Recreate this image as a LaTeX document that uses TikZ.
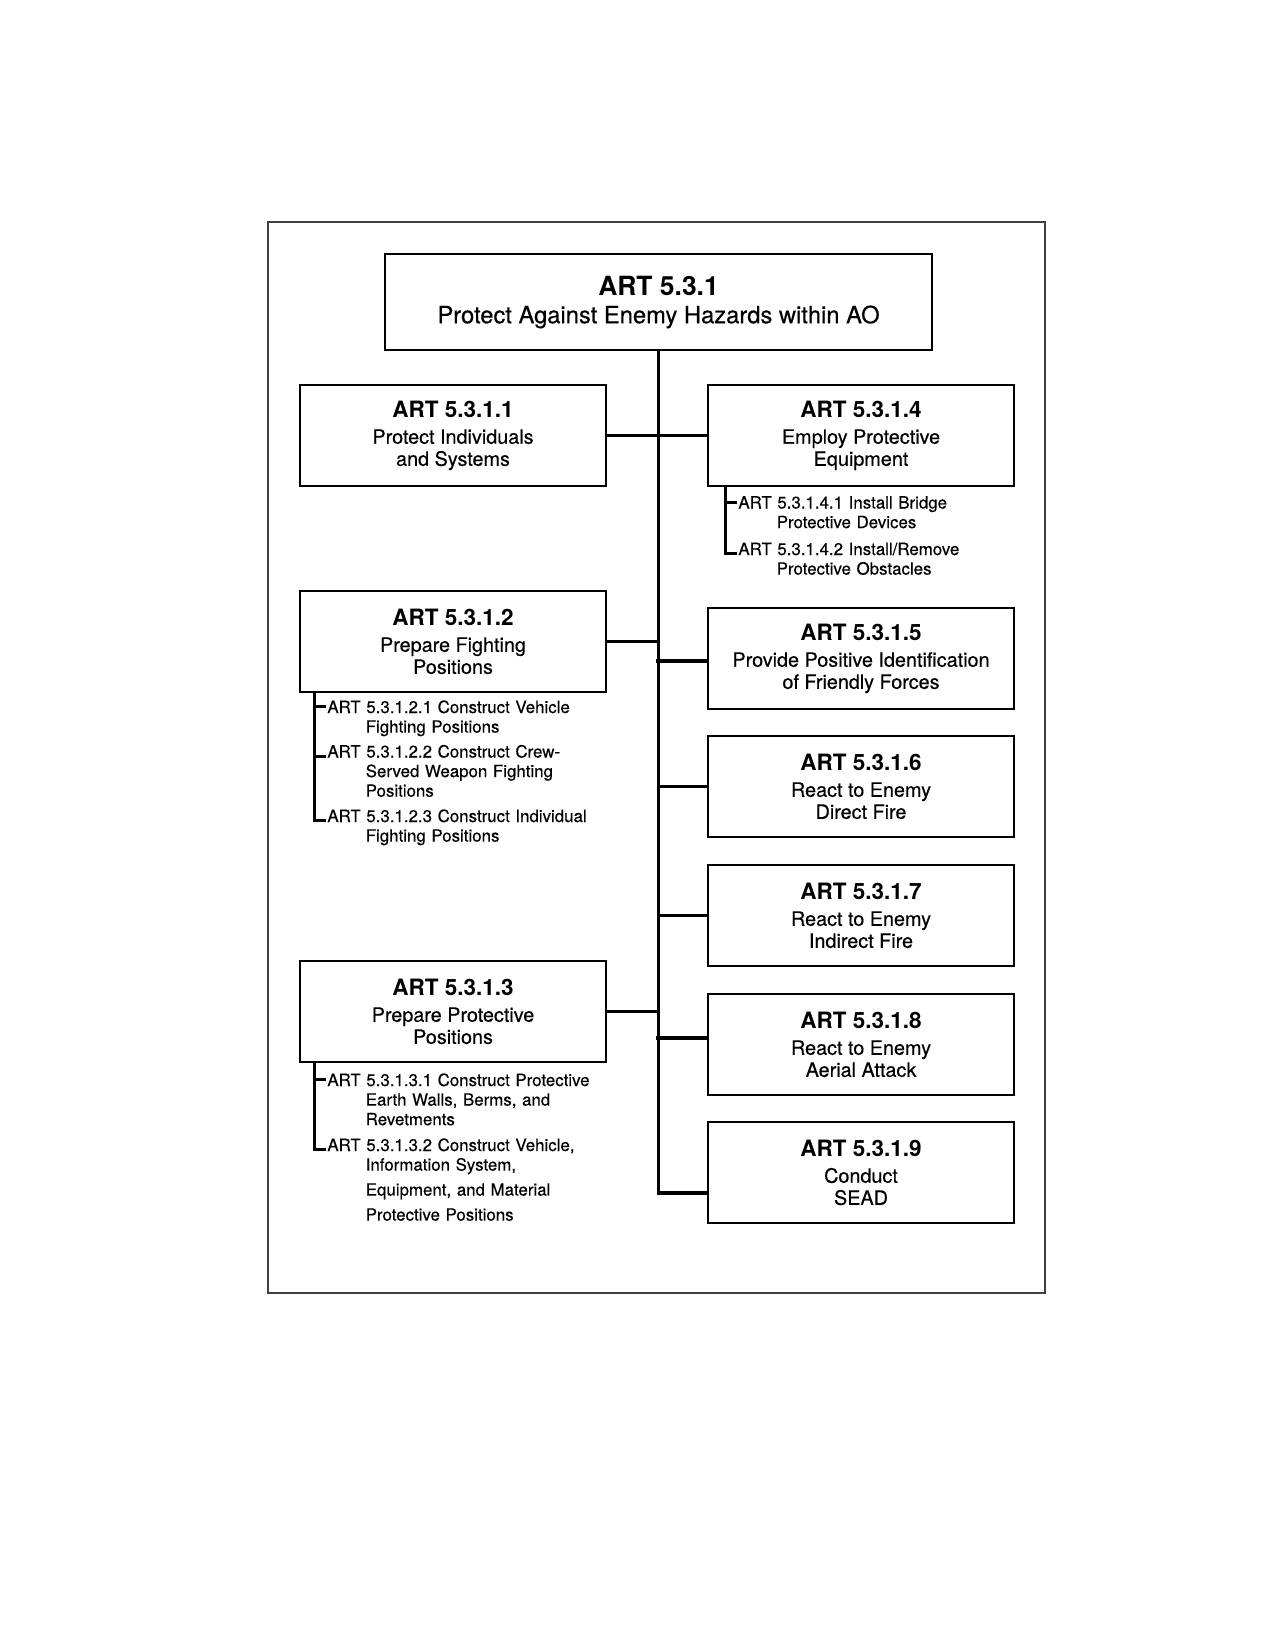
\documentclass[tikz,border=0pt]{standalone}
\usepackage{fontspec}
\setmainfont{TeX Gyre Heros}[UprightFeatures={FakeBold=0.4}]
\newcommand\subindent{\hspace*{18.4pt}}
\newcommand\boxtitle[1]{{\fontsize{10.8}{13}\selectfont\bfseries #1}}
\begin{document}
\begin{tikzpicture}[x=0.48pt,y=-0.48pt,
  box/.style={draw, line width=0.95pt, inner sep=0pt, align=center, anchor=north west,
    minimum width=146.9pt, minimum height=48.5pt, font=\fontsize{9.5}{10.6}\selectfont},
  conn/.style={line width=1.7pt},
  sub/.style={line width=1.4pt},
  item/.style={anchor=base west, inner sep=0pt, text width=220pt, align=left,
    font=\fontsize{8.1}{9.4}\selectfont},
  frame/.style={draw=black!75, line width=0.7pt}]
\useasboundingbox (0,0) rectangle (1275,1650);
\draw[frame] (268,222) rectangle (1045,1293);

\node[box, minimum width=262.6pt, minimum height=45.8pt, font=\fontsize{11.4}{13.4}\selectfont] (top) at (384,253.5)
  {{\fontsize{12.7}{15}\selectfont\bfseries ART 5.3.1}\\Protect Against Enemy Hazards within AO};

\node[box] (b1) at (299,384) {\boxtitle{ART 5.3.1.1}\\[2.1pt]Protect Individuals\\and Systems};
\node[box] (b2) at (299,590) {\boxtitle{ART 5.3.1.2}\\[2.1pt]Prepare Fighting\\Positions};
\node[box] (b3) at (299,960) {\boxtitle{ART 5.3.1.3}\\[2.1pt]Prepare Protective\\Positions};
\node[box] (b4) at (707,384) {\boxtitle{ART 5.3.1.4}\\[2.1pt]Employ Protective\\Equipment};
\node[box] (b5) at (707,607) {\boxtitle{ART 5.3.1.5}\\[2.1pt]Provide Positive Identification\\of Friendly Forces};
\node[box] (b6) at (707,735) {\boxtitle{ART 5.3.1.6}\\[2.1pt]React to Enemy\\Direct Fire};
\node[box] (b7) at (707,864) {\boxtitle{ART 5.3.1.7}\\[2.1pt]React to Enemy\\Indirect Fire};
\node[box] (b8) at (707,993) {\boxtitle{ART 5.3.1.8}\\[2.1pt]React to Enemy\\Aerial Attack};
\node[box] (b9) at (707,1121) {\boxtitle{ART 5.3.1.9}\\[2.1pt]Conduct\\SEAD};

% sub items
\node[item] (i41) at (738,508.5) {ART 5.3.1.4.1 Install Bridge\\\subindent Protective Devices};
\node[item] (i42) at (738,555) {ART 5.3.1.4.2 Install/Remove\\\subindent Protective Obstacles};
\node[item] (i21) at (327,713) {ART 5.3.1.2.1 Construct Vehicle\\\subindent Fighting Positions};
\node[item] (i22) at (327,757.5) {ART 5.3.1.2.2 Construct Crew-\\\subindent Served Weapon Fighting\\\subindent Positions};
\node[item] (i23) at (327,822) {ART 5.3.1.2.3 Construct Individual\\\subindent Fighting Positions};
\node[item] (i31) at (327,1086) {ART 5.3.1.3.1 Construct Protective\\\subindent Earth Walls, Berms, and\\\subindent Revetments};
\node[item] (i32) at (327,1151) {ART 5.3.1.3.2 Construct Vehicle,\\\subindent Information System,\\[2.6pt]\subindent Equipment, and Material\\[2.6pt]\subindent Protective Positions};

% trunk and branches
\draw[conn] (top.south) |- ([yshift=-9.8pt]b9.west);
\draw[conn] (b1.east) -- (b1.east -| top.south);
\draw[conn] (b2.east) -- (b2.east -| top.south);
\draw[conn] (b3.east) -- (b3.east -| top.south);
\draw[conn] (b4.west) -- (b4.west -| top.south);
\draw[conn] ([yshift=-1.2pt]b5.west) -- ++(-51,0);
\draw[conn] (b6.west) -- (b6.west -| top.south);
\draw[conn] (b7.west) -- (b7.west -| top.south);
\draw[conn] ([yshift=3.1pt]b8.west) -- ++(-51,0);

% sub-item brackets
\coordinate (v4) at (725.5,0);
\coordinate (v2) at (314.5,0);
\draw[sub] (b4.south -| v4) |- ([xshift=-0.4pt,yshift=0.7pt]i42.base west);
\draw[sub] ([xshift=-0.4pt,yshift=3pt]i41.base west) -- ++(-12.5,0);
\draw[sub] (b2.south -| v2) |- ([xshift=-0.4pt,yshift=0.7pt]i23.base west);
\draw[sub] ([xshift=-0.4pt,yshift=3pt]i21.base west) -- ++(-12.5,0);
\draw[sub] ([xshift=-0.4pt,yshift=0.7pt]i22.base west) -- ++(-12.5,0);
\draw[sub] (b3.south -| v2) |- ([xshift=-0.4pt,yshift=0.7pt]i32.base west);
\draw[sub] ([xshift=-0.4pt,yshift=3pt]i31.base west) -- ++(-12.5,0);
\end{tikzpicture}
\end{document}
